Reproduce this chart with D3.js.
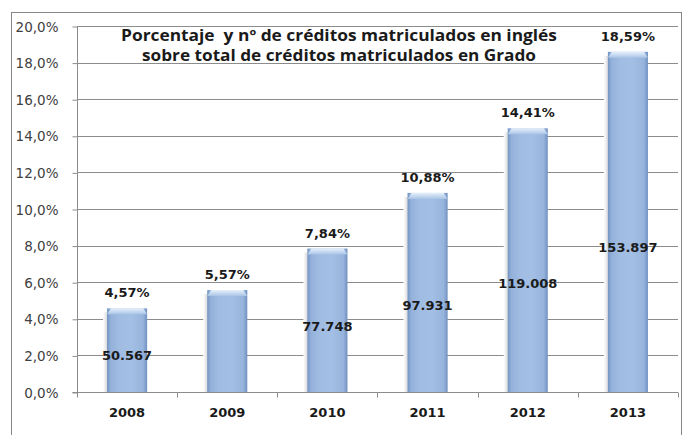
<!DOCTYPE html>
<html><head><meta charset="utf-8">
<script src="https://cdn.jsdelivr.net/npm/d3@7"></script>
<style>html,body{margin:0;padding:0;background:#fff;}svg{display:block;}</style>
</head><body>
<svg id="c" width="686" height="435"></svg>
<script>
const years = ["2008","2009","2010","2011","2012","2013"];
const percents = [4.57, 5.57, 7.84, 10.88, 14.41, 18.59];
const percentLabels = ["4,57%","5,57%","7,84%","10,88%","14,41%","18,59%"];
const credits = [50567, null, 77748, 97931, 119008, 153897];
const creditLabels = ["50.567","","77.748","97.931","119.008","153.897"];
const yTicks = [0,2,4,6,8,10,12,14,16,18,20];
const yTickLabels = ["0,0%","2,0%","4,0%","6,0%","8,0%","10,0%","12,0%","14,0%","16,0%","18,0%","20,0%"];
const titleLines = ["Porcentaje  y nº de créditos matriculados en inglés","sobre total de créditos matriculados en Grado"];

const svg = d3.select("#c");
const L=77, R=678, T=26, B=392;
const x = d3.scaleBand().domain(years).range([L,R]).paddingInner(0.6).paddingOuter(0.3);
const y = d3.scaleLinear().domain([0,20]).range([B,T]);
const y2 = d3.scaleLinear().domain([15120,365360]).range([B,T]);

svg.append("rect").attr("x",11.5).attr("y",12.5).attr("width",670).attr("height",440)
  .attr("fill","#fff").attr("stroke","#868686");

const defs = svg.append("defs");
const g1 = defs.append("linearGradient").attr("id","barg").attr("x1","0").attr("x2","1").attr("y1","0").attr("y2","0");
[["0%","#7393c2"],["9%","#93b1da"],["30%","#a0bce2"],["60%","#a4bfe4"],["90%","#96b4dc"],["100%","#7090c0"]]
  .forEach(s=>g1.append("stop").attr("offset",s[0]).attr("stop-color",s[1]));
const g2 = defs.append("linearGradient").attr("id","capg").attr("x1","0").attr("x2","0").attr("y1","0").attr("y2","1");
[["0%","#e6f0fb"],["100%","#a9c4e6"]].forEach(s=>g2.append("stop").attr("offset",s[0]).attr("stop-color",s[1]));
const g3 = defs.append("linearGradient").attr("id","shg").attr("x1","0").attr("x2","1");
[["0%","#ffffff"],["100%","#d2d2d2"]].forEach(s=>g3.append("stop").attr("offset",s[0]).attr("stop-color",s[1]));

svg.append("g").selectAll("line").data(yTicks.slice(1)).join("line")
  .attr("x1",L).attr("x2",R).attr("y1",d=>Math.round(y(d))+0.5).attr("y2",d=>Math.round(y(d))+0.5)
  .attr("stroke","#8c8c8c").attr("stroke-width",1);

const yAxis = d3.axisLeft(y).tickValues(yTicks).tickSize(5).tickFormat((d,i)=>yTickLabels[i]);
const ya = svg.append("g").attr("transform",`translate(${L+0.5},0)`).call(yAxis);
ya.select(".domain").attr("stroke","#8c8c8c").attr("d",`M-5,${B+0.5}H0V${T}`);
ya.selectAll(".tick line").attr("stroke","#8c8c8c").attr("transform","translate(0,0.5)");
ya.selectAll(".tick text").attr("x",-19).attr("dy","0.38em")
  .attr("font-family","DejaVu Sans").attr("font-size",13.5).attr("fill","#404040");

const xa = svg.append("g").attr("transform",`translate(0,${B+0.5})`);
xa.append("line").attr("x1",L).attr("x2",R).attr("stroke","#8c8c8c");
const bounds = years.map(d=>x(d)-x.step()*x.paddingInner()/2).concat([R]);
xa.selectAll("line.tk").data(bounds).join("line").attr("class","tk")
  .attr("x1",d=>Math.round(d)+0.5).attr("x2",d=>Math.round(d)+0.5).attr("y1",0).attr("y2",5).attr("stroke","#8c8c8c");
xa.selectAll("text").data(years).join("text")
  .attr("x",d=>x(d)+x.bandwidth()/2).attr("y",24).attr("text-anchor","middle")
  .attr("font-family","DejaVu Sans").attr("font-weight","bold").attr("font-size",13).attr("fill","#1a1a1a")
  .text(d=>d);

const bars = svg.append("g").selectAll("g").data(years).join("g");
bars.append("rect").attr("x",d=>x(d)-4).attr("width",5)
  .attr("y",(d,i)=>y(percents[i])+4).attr("height",(d,i)=>B-y(percents[i])-4).attr("fill","url(#shg)");
bars.append("rect").attr("x",d=>x(d)).attr("width",x.bandwidth())
  .attr("y",(d,i)=>y(percents[i])).attr("height",(d,i)=>B-y(percents[i])).attr("fill","url(#barg)");
bars.append("path").attr("fill","url(#capg)")
  .attr("d",(d,i)=>{const x0=x(d), w=x.bandwidth(), t=y(percents[i]);
    return `M${x0+4},${t}H${x0+w-4}L${x0+w},${t+6}H${x0}Z`;});

svg.append("g").selectAll("text").data(years).join("text")
  .attr("x",d=>x(d)+x.bandwidth()/2).attr("y",(d,i)=>y(percents[i])-11)
  .attr("text-anchor","middle").attr("font-family","DejaVu Sans").attr("font-weight","bold")
  .attr("font-size",13).attr("fill","#1a1a1a").text((d,i)=>percentLabels[i]);

svg.append("g").selectAll("text").data(years.filter((d,i)=>credits[i]!=null)).join("text")
  .attr("x",d=>x(d)+x.bandwidth()/2).attr("y",d=>y2(credits[years.indexOf(d)]))
  .attr("dy","0.38em").attr("text-anchor","middle").attr("font-family","DejaVu Sans").attr("font-weight","bold")
  .attr("font-size",13).attr("fill","#1a1a1a").text(d=>creditLabels[years.indexOf(d)]);

const titleW = [436, 394];
svg.append("g").selectAll("text").data(titleLines).join("text")
  .attr("x",339).attr("y",(d,i)=>41+i*20).attr("text-anchor","middle")
  .attr("font-family","Open Sans").attr("font-weight","bold").attr("font-size",15.5).attr("fill","#1a1a1a")
  .attr("textLength",(d,i)=>titleW[i]).attr("lengthAdjust","spacingAndGlyphs")
  .style("white-space","pre").text(d=>d);
</script>
</body></html>
